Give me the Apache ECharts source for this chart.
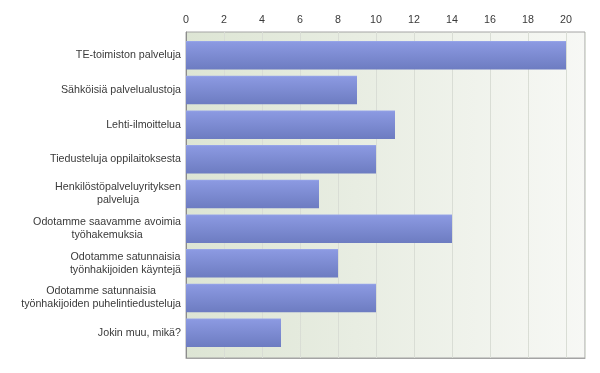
<!DOCTYPE html>
<html>
<head>
<meta charset="utf-8">
<script src="https://cdn.jsdelivr.net/npm/echarts@6/dist/echarts.min.js"></script>
<style>
html,body{margin:0;padding:0;background:#fff;}
#chart{width:600px;height:373px;}
</style>
</head>
<body>
<div id="chart"></div>
<script>
const categories = [
  'TE-toimiston palveluja',
  'Sähköisiä palvelualustoja',
  'Lehti-ilmoittelua',
  'Tiedusteluja oppilaitoksesta',
  'Henkilöstöpalveluyrityksen\npalveluja',
  'Odotamme saavamme avoimia\ntyöhakemuksia',
  'Odotamme satunnaisia\ntyönhakijoiden käyntejä',
  'Odotamme satunnaisia\ntyönhakijoiden puhelintiedusteluja',
  'Jokin muu, mikä?'
];
const values = [20, 9, 11, 10, 7, 14, 8, 10, 5];
const xMin = 0, xMax = 21, xStep = 2;

const FONT = '"Liberation Sans", Arial, sans-serif';
const FS = 10.7;
const chart = echarts.init(document.getElementById('chart'));

const option = {
  animation: false,
  grid: [
    {
      left: 186, right: 15, top: 32, bottom: 15,
      show: true,
      borderColor: '#a4a4a4',
      borderWidth: 1,
      backgroundColor: new echarts.graphic.LinearGradient(0, 0, 1, 0, [
        { offset: 0, color: '#dde5d4' },
        { offset: 1, color: '#f7f8f5' }
      ])
    },
    { left: 186, right: 15, top: 38, bottom: 23, show: false }
  ],
  xAxis: [
    {
      gridIndex: 0, type: 'value', position: 'top',
      min: xMin, max: xMax, interval: xStep,
      axisLine: { show: true, lineStyle: { color: '#a4a4a4' } },
      axisTick: { show: false },
      axisLabel: {
        margin: 6, color: '#3a3a3a', fontSize: FS, fontFamily: FONT,
        formatter: v => (v % xStep === 0 ? String(v) : '')
      },
      splitLine: { show: true, lineStyle: { color: '#d9ddd5', width: 1 } }
    },
    {
      gridIndex: 1, type: 'value', min: xMin, max: xMax, show: false
    }
  ],
  yAxis: [
    {
      gridIndex: 0, type: 'value', min: 0, max: 1,
      axisLine: { show: true, lineStyle: { color: '#8c8c8c' } },
      axisTick: { show: false }, axisLabel: { show: false },
      splitLine: { show: false }
    },
    {
      gridIndex: 1, type: 'category', inverse: true, data: categories,
      axisLine: { show: false }, axisTick: { show: false },
      splitLine: { show: false },
      axisLabel: {
        margin: 5, color: '#3a3a3a', fontSize: FS, fontFamily: FONT, lineHeight: 13,
        formatter: v => v.split('\n').map(l => '{c|' + l + '}').join('\n'),
        rich: { c: { align: 'center', fontSize: FS, fontFamily: FONT, lineHeight: 13, color: '#3a3a3a' } }
      }
    }
  ],
  series: [{
    type: 'bar',
    xAxisIndex: 1, yAxisIndex: 1,
    data: values,
    barCategoryGap: '18%',
    itemStyle: {
      color: new echarts.graphic.LinearGradient(0, 0, 0, 1, [
        { offset: 0, color: '#9aa8ea' },
        { offset: 0.05, color: '#8b99e1' },
        { offset: 1, color: '#6d7cc1' }
      ])
    }
  }]
};
chart.setOption(option);
</script>
</body>
</html>
